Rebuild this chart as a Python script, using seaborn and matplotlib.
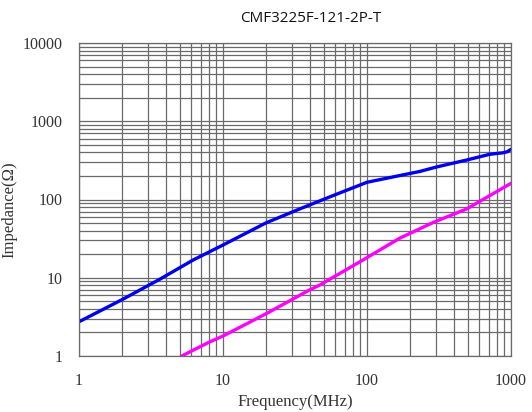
import numpy as np
import pandas as pd
import matplotlib
matplotlib.use("Agg")
import matplotlib.pyplot as plt
import seaborn as sns
from matplotlib.ticker import LogLocator, FixedLocator, FixedFormatter, NullFormatter

# Data
title = "CMF3225F-121-2P-T"
common_freq = [1, 2.03, 3.65, 6.22, 10, 20, 34, 47, 58, 100, 168, 232, 303, 494, 711, 885, 942, 1000]
common_z = [2.74, 5.35, 9.6, 16.9, 26.2, 50.5, 75.6, 96, 112, 166, 202, 228, 260, 320, 378, 396, 408, 438]
diff_freq = [5.17, 8.0, 10.0, 20.1, 39, 47, 94, 168, 289, 494, 1000]
diff_z = [1.0, 1.5, 1.8, 3.5, 6.83, 8.07, 16.9, 31.9, 51, 76, 161]
x_ticks = [1, 10, 100, 1000]
x_tick_labels = ["1", "10", "100", "1000"]
y_ticks = [1, 10, 100, 1000, 10000]
y_tick_labels = ["1", "10", "100", "1000", "10000"]

df = pd.concat([
    pd.DataFrame({"freq": common_freq, "z": common_z, "series": "common"}),
    pd.DataFrame({"freq": diff_freq, "z": diff_z, "series": "diff"}),
], ignore_index=True)

sns.set_style("white")
plt.rcParams['font.family'] = ['Liberation Serif', 'DejaVu Serif']

fig = plt.figure(figsize=(5.32, 4.12), dpi=100)
ax = fig.add_axes([79/532, 1-356/412, (511-79)/532, (356-43)/412])

sns.lineplot(data=df, x="freq", y="z", hue="series",
             palette={"common": "#0000ee", "diff": "#ff00ff"},
             linewidth=2.4, legend=False, ax=ax, sort=True, estimator=None)

ax.set_xscale("log")
ax.set_yscale("log")
ax.set_xlim(1, 1000)
ax.set_ylim(1, 10000)

ax.xaxis.set_major_locator(FixedLocator(x_ticks))
ax.xaxis.set_major_formatter(FixedFormatter(x_tick_labels))
ax.yaxis.set_major_locator(FixedLocator(y_ticks))
ax.yaxis.set_major_formatter(FixedFormatter(y_tick_labels))
ax.xaxis.set_minor_locator(LogLocator(base=10, subs=np.arange(2, 10), numticks=20))
ax.yaxis.set_minor_locator(LogLocator(base=10, subs=np.arange(2, 10), numticks=20))
ax.xaxis.set_minor_formatter(NullFormatter())
ax.yaxis.set_minor_formatter(NullFormatter())

ax.grid(True, which="both", color="#6a6a6a", linewidth=0.9)
ax.set_axisbelow(True)
ax.tick_params(which="both", length=0)
ax.tick_params(axis="y", pad=12, labelsize=11.5, labelcolor="#333333")
ax.tick_params(axis="x", pad=12, labelsize=11.5, labelcolor="#333333")
for s in ax.spines.values():
    s.set_color("#6a6a6a")
    s.set_linewidth(0.9)

ax.set_xlabel("Frequency(MHz)", fontsize=12, color="#333333", labelpad=4)
ax.set_ylabel("Impedance(Ω)", fontsize=12, color="#333333")
ax.yaxis.set_label_coords((17 - 79) / 432, (356 - 210) / 313)

fig.text(311/532, 1-18/412, title, ha="center", va="center",
         fontsize=11, family=["Open Sans", "DejaVu Sans"], color="#111111")

fig.savefig("out.png", dpi=100)
